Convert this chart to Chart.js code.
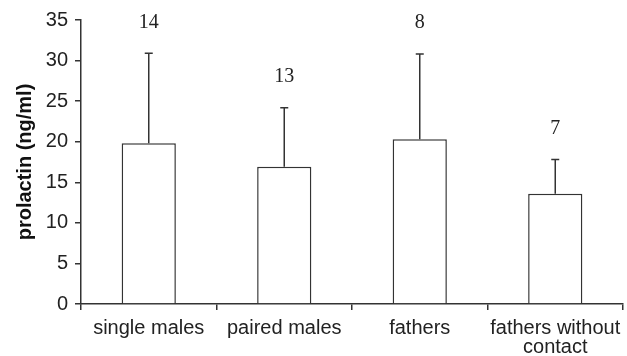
<!DOCTYPE html>
<html>
<head>
<meta charset="utf-8">
<script src="https://cdn.jsdelivr.net/npm/chart.js@4.4.0/dist/chart.umd.min.js"></script>
<style>
  html, body { margin: 0; padding: 0; background: #fff; }
  #wrap { width: 627px; height: 356px; position: relative; }
</style>
</head>
<body>
<div id="wrap"><canvas id="prolactinChart"></canvas></div>
<script>
// Chart data
const categories = ['single males', 'paired males', 'fathers', ['fathers without', 'contact']];
const prolactinMeans = [19.8, 16.9, 20.3, 13.6];
const prolactinSD = [11.1, 7.3, 10.5, 4.2];
const sampleSizes = [14, 13, 8, 7];

const ink = '#333';

// Draws the upper error bars and the n labels above them
const errorBarPlugin = {
    id: 'errorBars',
    afterDatasetsDraw(chart) {
        const ctx = chart.ctx;
        const yScale = chart.scales.y;
        const meta = chart.getDatasetMeta(0);
        ctx.save();
        meta.data.forEach((bar, i) => {
            const yTop = yScale.getPixelForValue(prolactinMeans[i] + prolactinSD[i]);
            ctx.strokeStyle = ink;
            ctx.lineWidth = 1.5;
            ctx.beginPath();
            ctx.moveTo(bar.x, bar.y);
            ctx.lineTo(bar.x, yTop);
            ctx.moveTo(bar.x - 4, yTop);
            ctx.lineTo(bar.x + 4, yTop);
            ctx.stroke();

            ctx.fillStyle = '#222';
            ctx.font = '20px "Liberation Serif", "Times New Roman", serif';
            ctx.textAlign = 'center';
            ctx.textBaseline = 'middle';
            ctx.fillText(String(sampleSizes[i]), bar.x, yTop - 31);
        });
        ctx.restore();
    }
};

new Chart(document.getElementById('prolactinChart').getContext('2d'), {
    type: 'bar',
    data: {
        labels: categories,
        datasets: [{
            data: prolactinMeans,
            backgroundColor: '#fff',
            borderColor: ink,
            borderWidth: 1.5,
            categoryPercentage: 1.0,
            barPercentage: 0.4
        }]
    },
    options: {
        responsive: true,
        maintainAspectRatio: false,
        animation: false,
        layout: { padding: { top: 20, right: 4, left: 0, bottom: 0 } },
        plugins: {
            legend: { display: false },
            tooltip: { enabled: false }
        },
        scales: {
            x: {
                grid: {
                    display: true,
                    drawOnChartArea: false,
                    drawTicks: true,
                    tickLength: 6,
                    color: ink,
                    lineWidth: 1.5
                },
                border: { display: true, color: ink, width: 1.5 },
                ticks: {
                    color: '#222',
                    padding: 9,
                    maxRotation: 0,
                    autoSkip: false,
                    font: { family: '"Liberation Sans", Arial, sans-serif', size: 20, lineHeight: 0.95 }
                },
                afterFit(scale) {
                    scale.height = 52;
                    // let the last label run into the right margin like the original
                    scale.paddingLeft = 0;
                    scale.paddingRight = 0;
                }
            },
            y: {
                min: 0,
                max: 35,
                ticks: {
                    stepSize: 5,
                    color: '#222',
                    padding: 7,
                    font: { family: '"Liberation Sans", Arial, sans-serif', size: 20 }
                },
                grid: {
                    display: true,
                    drawOnChartArea: false,
                    drawTicks: true,
                    tickLength: 6,
                    color: ink,
                    lineWidth: 1.5
                },
                border: { display: true, color: ink, width: 1.5 },
                title: {
                    display: true,
                    text: 'prolactin (ng/ml)',
                    color: '#111',
                    padding: { top: 13, bottom: 0 },
                    font: { family: '"Liberation Sans", Arial, sans-serif', size: 20, weight: 'bold' }
                },
                afterFit(scale) { scale.width = 81; }
            }
        }
    },
    plugins: [errorBarPlugin]
});
</script>
</body>
</html>
